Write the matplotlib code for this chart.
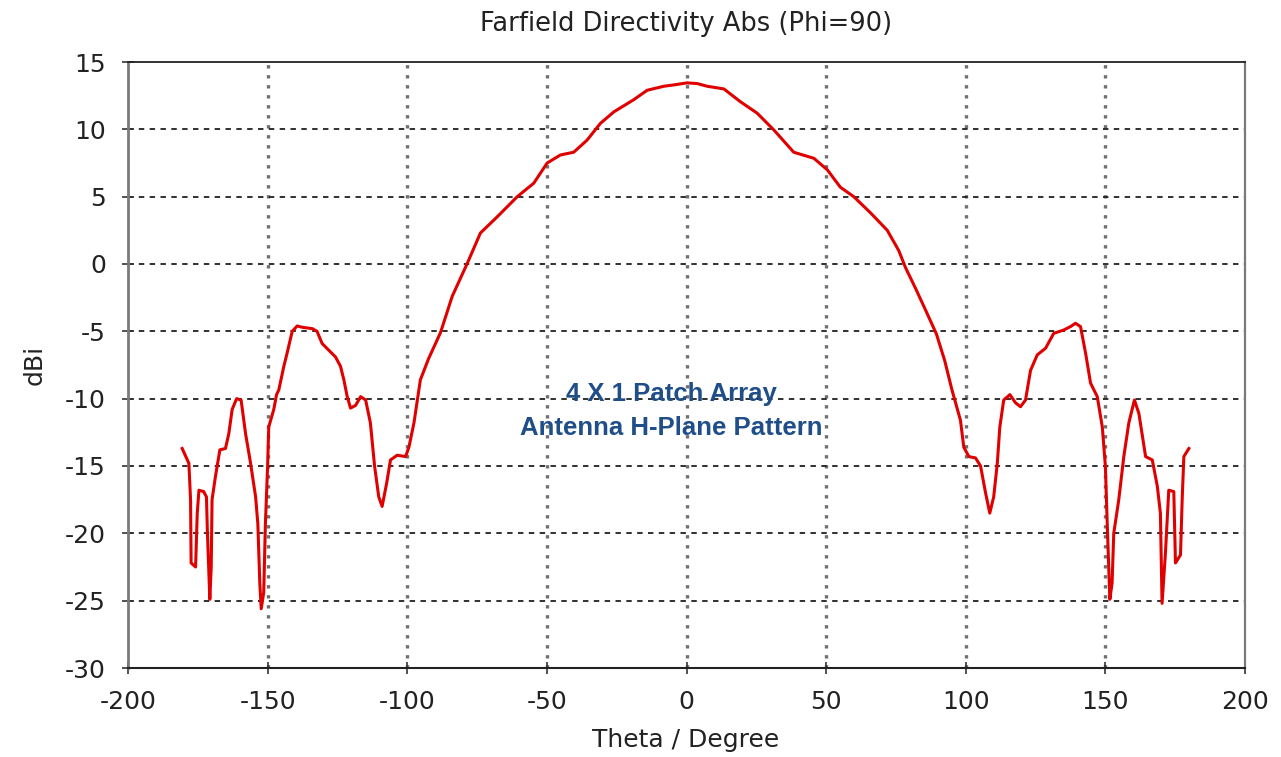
import matplotlib
matplotlib.use("Agg")
import matplotlib.pyplot as plt

theta = [-180.6, -178.2, -177.6, -177.4, -175.8, -175.2, -174.6, -172.9, -171.9, -171.6,
         -170.7, -170.2, -169.9, -168.7, -167.1, -165.1, -163.9, -162.7, -161.1, -159.5,
         -157.9, -156.1, -154.3, -153.5, -152.8, -152.3, -151.4, -150.8, -150.0, -149.6,
         -147.8, -146.8, -146.0, -144.2, -143.0, -141.2, -139.4, -137.6, -134.0, -132.3,
         -130.5, -128.1, -125.7, -123.9, -122.7, -121.5, -120.3, -118.5, -116.7, -114.9,
         -113.2, -111.7, -110.2, -109.0, -107.4, -106.0, -103.6, -100.6, -99.4, -97.6,
         -95.3, -92.3, -88.1, -83.9, -78.5, -73.8, -67.8, -60.6, -54.7, -49.9,
         -45.1, -40.4, -35.6, -30.8, -26.0, -18.9, -14.1, -8.1, -4.5, 0.2,
         3.8, 7.4, 13.4, 19.3, 25.3, 31.3, 38.4, 45.6, 50.4, 55.1,
         59.9, 65.9, 71.9, 76.0, 78.5, 82.0, 86.0, 89.5, 92.5, 95.0,
         98.1, 99.3, 101.1, 103.5, 105.3, 107.1, 108.6, 110.0, 111.3, 112.2,
         113.6, 115.8, 117.8, 119.6, 121.4, 123.2, 125.6, 128.6, 131.5, 135.1,
         137.5, 139.3, 141.1, 142.9, 144.7, 147.1, 148.9, 150.0, 150.7, 151.6,
         152.4, 153.0, 154.8, 156.6, 158.4, 160.4, 162.0, 164.4, 166.8, 168.6,
         169.7, 170.3, 171.5, 172.7, 174.5, 175.1, 176.9, 177.5, 178.1, 179.9]

dbi = [-13.7, -14.8, -17.5, -22.2, -22.5, -18.5, -16.8, -16.9, -17.3, -19.7,
       -24.9, -22.5, -17.5, -15.8, -13.8, -13.7, -12.6, -10.8, -10.0, -10.1,
       -12.6, -14.8, -17.3, -19.3, -23.7, -25.6, -24.4, -19.3, -15.0, -12.1,
       -10.8, -9.7, -9.35, -7.6, -6.6, -5.0, -4.6, -4.7, -4.8, -5.0,
       -5.9, -6.4, -6.9, -7.6, -8.6, -9.85, -10.7, -10.5, -9.85, -10.1,
       -11.8, -15.0, -17.3, -18.0, -16.3, -14.55, -14.2, -14.3, -13.6, -11.8,
       -8.6, -7.0, -5.1, -2.4, 0.05, 2.3, 3.5, 5.0, 6.0, 7.5,
       8.1, 8.3, 9.2, 10.45, 11.3, 12.2, 12.9, 13.2, 13.3, 13.45,
       13.4, 13.2, 13.0, 12.05, 11.2, 9.95, 8.3, 7.85, 7.0, 5.7,
       5.0, 3.8, 2.5, 1.0, -0.3, -1.8, -3.6, -5.2, -7.2, -9.3,
       -11.6, -13.6, -14.3, -14.4, -15.0, -17.0, -18.5, -17.3, -14.8, -12.1,
       -10.1, -9.7, -10.3, -10.6, -10.1, -7.9, -6.75, -6.25, -5.15, -4.9,
       -4.65, -4.4, -4.65, -6.6, -8.85, -9.85, -12.1, -15.0, -19.5, -24.9,
       -23.7, -20.0, -17.5, -14.3, -11.8, -10.1, -11.1, -14.3, -14.55, -16.5,
       -18.5, -25.2, -21.5, -16.8, -16.9, -22.2, -21.6, -17.5, -14.3, -13.7]

x_ticks = [-200, -150, -100, -50, 0, 50, 100, 150, 200]
y_ticks = [-30, -25, -20, -15, -10, -5, 0, 5, 10, 15]

plt.rcParams['font.family'] = ['DejaVu Sans']
plt.rcParams['axes.unicode_minus'] = False

fig = plt.figure(figsize=(12.81, 7.57), dpi=100)
ax = fig.add_axes([128/1281, 1 - 668/757, (1245-128)/1281, (668-62)/757])

ax.plot(theta, dbi, color='#e00000', linewidth=2.2, zorder=3)

ax.set_xlim(-200, 200)
ax.set_ylim(-30, 15)
ax.set_xticks(x_ticks)
ax.set_yticks(y_ticks)
ax.tick_params(axis='both', labelsize=18, direction='inout', length=8, width=1.2,
               colors='#333333', labelcolor='#222222')
ax.tick_params(axis='x', pad=12)
ax.tick_params(axis='y', pad=12)

for x in x_ticks[1:-1]:
    ax.axvline(x, color='#707070', linestyle=(0, (1, 2)), linewidth=2.4, zorder=1)
for y in y_ticks[1:-1]:
    ax.axhline(y, color='#202020', linestyle=(0, (3, 3)), linewidth=1.3, zorder=1)

ax.spines['bottom'].set_color('#222222')
ax.spines['bottom'].set_linewidth(1.5)
ax.spines['top'].set_color('#222222')
ax.spines['top'].set_linewidth(1.3)
ax.spines['left'].set_color('#7a7a7a')
ax.spines['left'].set_linewidth(2.0)
ax.spines['right'].set_color('#7a7a7a')
ax.spines['right'].set_linewidth(1.6)

fig.text(686/1281, 1 - 24/757, 'Farfield Directivity Abs (Phi=90)', ha='center', va='center',
         fontsize=18.5, color='#222222')
fig.text(686/1281, 1 - 740/757, 'Theta / Degree', ha='center', va='center', fontsize=18,
         color='#222222')
fig.text(35/1281, 1 - 365/757, 'dBi', ha='center', va='center', fontsize=18, rotation=90,
         color='#222222')

ax.text(-5.4, -10.9, '4 X 1 Patch Array\nAntenna H-Plane Pattern', ha='center', va='center',
        fontsize=18.5, fontweight='bold', color='#1f4e89', linespacing=1.5, zorder=4,
        family=['Liberation Sans', 'DejaVu Sans'])

fig.savefig('out.png', dpi=100)
